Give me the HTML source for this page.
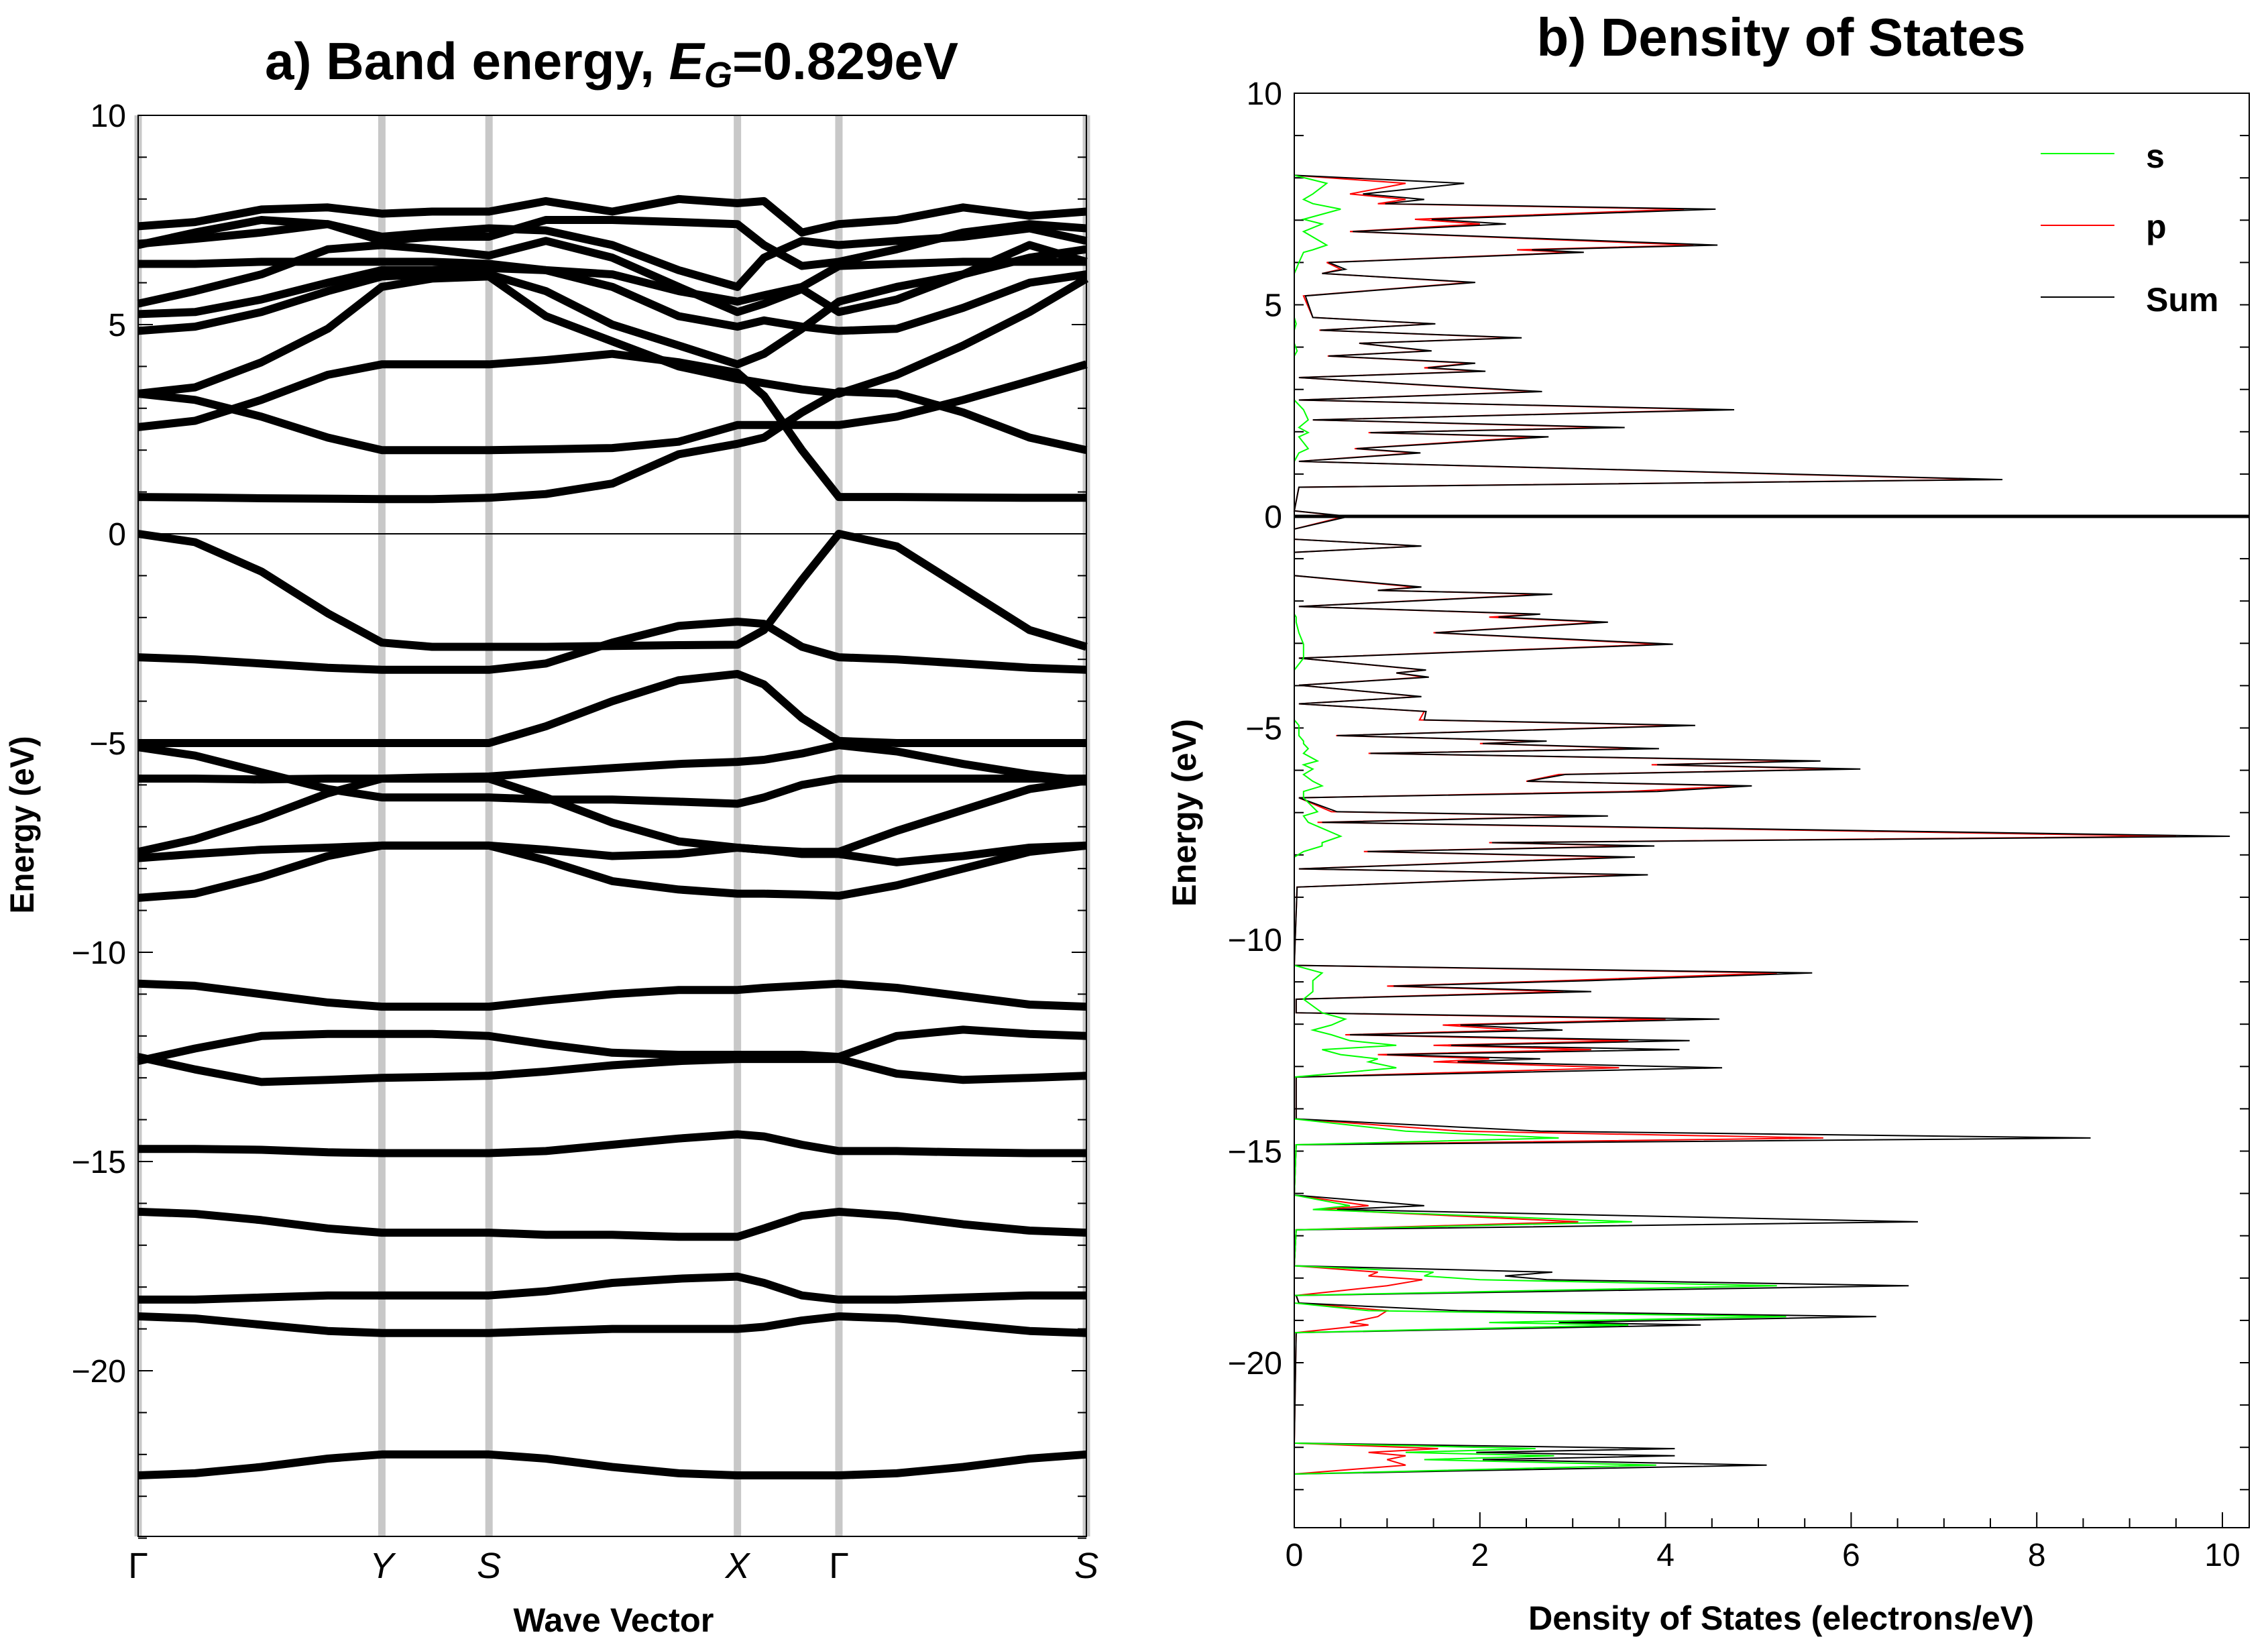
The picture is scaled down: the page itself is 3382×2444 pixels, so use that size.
<!DOCTYPE html>
<html><head><meta charset="utf-8"><title>Band energy and DOS</title>
<style>html,body{margin:0;padding:0;background:#fff}svg{display:block}text{font-family:"Liberation Sans",Arial,sans-serif}</style>
</head><body>
<svg id="fig" xmlns="http://www.w3.org/2000/svg" width="3382" height="2444" viewBox="0 0 3382 2444">
<rect width="3382" height="2444" fill="#fff"/>
<text x="912" y="118" font-size="78" font-weight="bold" text-anchor="middle" textLength="1034" lengthAdjust="spacingAndGlyphs">a) Band energy, <tspan font-style="italic">E</tspan><tspan font-style="italic" font-size="54" dy="12">G</tspan><tspan dy="-12">=0.829eV</tspan></text>
<text x="2656" y="83" font-size="80" font-weight="bold" text-anchor="middle" textLength="729" lengthAdjust="spacingAndGlyphs">b) Density of States</text>
<g id="bandPlot"></g>
<g id="dosPlot"></g>
<text x="915" y="2433" font-size="50" font-weight="bold" text-anchor="middle" textLength="299" lengthAdjust="spacingAndGlyphs">Wave Vector</text>
<text x="2656" y="2430" font-size="50" font-weight="bold" text-anchor="middle" textLength="754" lengthAdjust="spacingAndGlyphs">Density of States (electrons/eV)</text>
<text transform="translate(50,1230) rotate(-90)" font-size="50" font-weight="bold" text-anchor="middle" textLength="265" lengthAdjust="spacingAndGlyphs">Energy (eV)</text>
<text transform="translate(1783,1212) rotate(-90)" font-size="50" font-weight="bold" text-anchor="middle" textLength="280" lengthAdjust="spacingAndGlyphs">Energy (eV)</text>
<g>
<line x1="3043" y1="229" x2="3153" y2="229" stroke="#00ff00" stroke-width="2"/>
<text x="3200" y="250" font-size="50" font-weight="bold">s</text>
<line x1="3043" y1="336" x2="3153" y2="336" stroke="#ff0000" stroke-width="2"/>
<text x="3200" y="355" font-size="50" font-weight="bold">p</text>
<line x1="3043" y1="443" x2="3153" y2="443" stroke="#000" stroke-width="2"/>
<text x="3200" y="464" font-size="50" font-weight="bold">Sum</text>
</g>
</svg>
<script>
// ---------- Band structure data ----------
const kPoints = [0,0.06,0.13,0.2,0.257,0.31,0.37,0.43,0.5,0.57,0.632,0.66,0.7,0.739,0.8,0.87,0.94,1.0];
const symLabels = ["Γ","Y","S","X","Γ","S"];
const symK = [0,0.257,0.37,0.632,0.739,1.0];
const symItalic = [false,true,true,true,false,true];
const bandTicks = [10,5,0,-5,-10,-15,-20];
const b1=[-22.5,-22.45,-22.3,-22.1,-22.0,-22.0,-22.0,-22.1,-22.3,-22.45,-22.5,-22.5,-22.5,-22.5,-22.45,-22.3,-22.1,-22.0];
const b2=[-18.7,-18.75,-18.9,-19.05,-19.1,-19.1,-19.1,-19.05,-19.0,-19.0,-19.0,-18.95,-18.8,-18.7,-18.75,-18.9,-19.05,-19.1];
const b3=[-18.3,-18.3,-18.25,-18.2,-18.2,-18.2,-18.2,-18.1,-17.9,-17.8,-17.75,-17.9,-18.2,-18.3,-18.3,-18.25,-18.2,-18.2];
const b4=[-16.2,-16.25,-16.4,-16.6,-16.7,-16.7,-16.7,-16.75,-16.75,-16.8,-16.8,-16.6,-16.3,-16.2,-16.3,-16.5,-16.65,-16.7];
const b5=[-14.7,-14.7,-14.72,-14.78,-14.8,-14.8,-14.8,-14.75,-14.6,-14.45,-14.35,-14.4,-14.6,-14.75,-14.75,-14.78,-14.8,-14.8];
const b6=[-12.6,-12.3,-12.0,-11.95,-11.95,-11.95,-12.0,-12.2,-12.4,-12.45,-12.45,-12.45,-12.45,-12.5,-12.0,-11.85,-11.95,-12.0];
const b7=[-12.5,-12.8,-13.1,-13.05,-13.0,-12.98,-12.95,-12.85,-12.7,-12.6,-12.55,-12.55,-12.55,-12.55,-12.9,-13.05,-13.0,-12.95];
const b8=[-10.75,-10.8,-11.0,-11.2,-11.3,-11.3,-11.3,-11.15,-11.0,-10.9,-10.9,-10.85,-10.8,-10.75,-10.85,-11.05,-11.25,-11.3];
const v1=[0,-0.2,-0.9,-1.9,-2.6,-2.7,-2.7,-2.7,-2.68,-2.66,-2.65,-2.3,-1.1,0,-0.3,-1.3,-2.3,-2.7];
const v2=[-2.95,-3.0,-3.1,-3.2,-3.25,-3.25,-3.25,-3.1,-2.6,-2.2,-2.1,-2.15,-2.7,-2.95,-3.0,-3.1,-3.2,-3.25];
const v3=[-5.0,-5.0,-5.0,-5.0,-5.0,-5.0,-5.0,-4.6,-4.0,-3.5,-3.35,-3.6,-4.4,-4.95,-5.0,-5.0,-5.0,-5.0];
const v4=[-5.1,-5.3,-5.7,-6.1,-6.3,-6.3,-6.3,-6.35,-6.35,-6.4,-6.45,-6.3,-6.0,-5.85,-5.85,-5.85,-5.85,-5.85];
const v5=[-5.85,-5.85,-5.87,-5.85,-5.85,-5.82,-5.8,-5.7,-5.6,-5.5,-5.45,-5.4,-5.25,-5.05,-5.2,-5.5,-5.75,-5.9];
const v6=[-7.6,-7.3,-6.8,-6.2,-5.85,-5.85,-5.85,-6.3,-6.9,-7.35,-7.5,-7.55,-7.6,-7.6,-7.1,-6.6,-6.1,-5.9];
const v7=[-7.75,-7.65,-7.55,-7.5,-7.45,-7.45,-7.45,-7.55,-7.7,-7.65,-7.5,-7.55,-7.65,-7.65,-7.85,-7.7,-7.5,-7.45];
const v8=[-8.7,-8.6,-8.2,-7.7,-7.45,-7.45,-7.45,-7.8,-8.3,-8.5,-8.6,-8.6,-8.62,-8.65,-8.4,-8.0,-7.6,-7.45];
const c1=[0.88,0.87,0.85,0.84,0.83,0.83,0.86,0.95,1.2,1.9,2.15,2.3,2.9,3.4,3.35,2.9,2.3,2.0];
const c2=[3.35,3.2,2.8,2.3,2.0,2.0,2.0,2.02,2.05,2.2,2.6,2.6,2.6,2.6,2.8,3.2,3.65,4.05];
const c3=[2.55,2.7,3.2,3.8,4.05,4.05,4.05,4.15,4.3,4.1,3.85,3.3,2.0,0.88,0.88,0.87,0.86,0.86];
const c4=[3.35,3.5,4.1,4.9,5.9,6.1,6.15,5.2,4.6,4.0,3.7,3.6,3.45,3.35,3.8,4.5,5.3,6.1];
const c5=[4.85,4.95,5.3,5.8,6.15,6.2,6.2,5.8,5.0,4.5,4.05,4.3,4.9,5.55,5.9,6.2,6.6,6.8];
const c6=[5.25,5.3,5.6,6.0,6.3,6.3,6.35,6.3,5.9,5.2,4.95,5.1,4.95,4.85,4.9,5.4,6.0,6.2];
const c7=[5.5,5.8,6.2,6.8,6.9,6.8,6.65,7.0,6.6,5.9,5.3,5.5,5.85,5.3,5.6,6.2,6.9,6.5];
const c8=[6.45,6.45,6.5,6.5,6.5,6.5,6.45,6.3,6.2,5.8,5.55,5.7,5.9,6.4,6.45,6.5,6.5,6.5];
const c9=[6.93,7.05,7.2,7.4,7.1,7.2,7.3,7.25,6.9,6.3,5.9,6.6,7.0,6.9,7.0,7.1,7.3,7.0];
const c10=[7.35,7.45,7.75,7.8,7.65,7.7,7.7,7.95,7.7,8.0,7.9,7.95,7.2,7.4,7.5,7.8,7.6,7.7];
const c11=[6.9,7.2,7.5,7.4,7.0,7.1,7.1,7.5,7.5,7.45,7.4,6.9,6.4,6.5,6.8,7.2,7.4,7.3];
const bands=[b1,b2,b3,b4,b5,b6,b7,b8,v1,v2,v3,v4,v5,v6,v7,v8,c1,c2,c3,c4,c5,c6,c7,c8,c9,c10,c11];

// ---------- DOS data ----------
const dosE=[8.06,7.87,7.62,7.49,7.39,7.26,7.02,6.91,6.73,6.41,6.3,6.24,6.0,5.84,5.74,5.53,5.21,4.7,4.55,4.4,4.22,4.09,3.91,3.79,3.62,3.51,3.43,3.28,3.1,2.95,2.75,2.52,2.28,2.1,1.98,1.88,1.6,1.5,1.3,0.87,0.69,0.13,0.0,-0.3,-0.54,-0.70,-0.85,-1.4,-1.67,-1.75,-1.84,-2.13,-2.31,-2.38,-2.5,-2.75,-3.02,-3.35,-3.63,-3.7,-3.8,-3.99,-4.26,-4.43,-4.61,-4.81,-4.94,-5.18,-5.31,-5.37,-5.49,-5.6,-5.78,-5.87,-5.97,-6.1,-6.26,-6.37,-6.5,-6.65,-6.98,-7.08,-7.23,-7.56,-7.71,-7.79,-7.92,-8.05,-8.33,-8.47,-8.6,-8.76,-10.61,-10.79,-10.97,-11.1,-11.23,-11.41,-11.73,-11.88,-12.02,-12.14,-12.25,-12.39,-12.5,-12.6,-12.72,-12.82,-12.89,-13.03,-13.25,-14.24,-14.53,-14.69,-14.85,-16.04,-16.29,-16.38,-16.67,-16.86,-17.71,-17.86,-17.95,-18.04,-18.18,-18.41,-18.59,-18.77,-18.91,-19.05,-19.11,-19.29,-21.9,-22.03,-22.12,-22.2,-22.29,-22.42,-22.63];
const dosSum=[0,1.83,0.74,1.4,0.98,4.54,1.48,2.28,0.63,4.56,2.56,3.12,0.37,0.55,0.3,1.95,0.12,0.2,1.52,0.28,2.45,0.7,1.48,0.37,1.95,1.44,2.06,0.05,1.44,2.67,0.05,4.74,0.2,3.56,0.82,2.74,0.67,1.36,0.05,7.63,0.05,0,0.59,0,0,1.37,0,0,1.37,0.9,2.78,0.05,2.65,2.2,3.38,1.52,4.08,0.05,1.42,1.1,1.45,0.05,1.37,0.05,1.42,1.4,4.32,0.46,2.72,2.03,3.93,0.82,5.67,3.91,6.10,2.92,2.51,4.93,3.91,0.05,0.46,3.38,0.30,10.08,2.13,3.88,0.79,3.67,0.05,3.81,1.96,0.03,0,5.58,3.2,1.07,3.2,0.02,0.02,4.58,1.79,2.89,0.6,4.26,1.69,4.15,1.0,2.65,1.76,4.61,0.02,0.02,2.65,8.58,0.02,0,1.4,0.46,6.72,0.02,0,2.78,2.27,2.72,6.62,0.02,0.05,1.76,6.27,2.85,4.38,0.02,0,4.1,1.96,4.1,2.03,5.09,0];
const dosP=[0,1.2,0.6,1.2,0.9,4.2,1.3,2.0,0.6,4.3,2.4,3.0,0.35,0.5,0.3,1.9,0.1,0.2,1.5,0.27,2.4,0.7,1.45,0.36,1.9,1.4,2.0,0.05,1.4,2.6,0.05,4.6,0.2,3.4,0.8,2.6,0.65,1.3,0.05,7.5,0.05,0,0.55,0,0,1.35,0,0,1.3,0.9,2.7,0.05,2.6,2.1,3.3,1.5,3.95,0.05,1.4,1.1,1.4,0.05,1.35,0.05,1.4,1.35,4.2,0.45,2.65,2.0,3.8,0.8,5.5,3.85,5.9,2.85,2.5,4.8,3.6,0.05,0.4,3.2,0.25,9.5,2.1,3.7,0.75,3.5,0.05,3.7,1.9,0.03,0,5.2,2.9,1.0,2.9,0.02,0.02,4.0,1.6,2.4,0.55,3.6,1.5,3.2,0.9,2.1,1.5,3.5,0.02,0.02,1.8,5.7,0.02,0,0.8,0.3,3.06,0.02,0,0.9,0.8,1.38,1.0,0.02,0.05,1.0,0.9,0.6,0.8,0.02,0,1.55,0.8,1.2,1.0,1.2,0];
const dosS=[0,0.35,0.2,0.1,0.2,0.5,0.1,0.3,0.1,0.35,0.2,0.1,0.05,0.02,0,0,0,0,0.02,0,0,0,0.03,0,0,0,0,0,0,0,0,0.1,0.15,0.05,0.15,0.05,0.15,0.05,0,0,0,0,0,0,0,0,0,0,0,0,0,0,0,0.02,0.02,0.05,0.1,0.1,0,0,0,0,0,0,0,0,0.05,0.05,0.1,0.1,0.15,0.1,0.25,0.1,0.2,0.1,0.2,0.3,0.1,0.1,0.25,0.1,0.15,0.5,0.3,0.3,0.1,0,0,0,0,0,0,0.3,0.2,0.2,0.2,0.1,0.3,0.55,0.4,0.2,0.4,0.6,1.1,0.3,0.5,0.9,0.8,1.1,0,0,1.2,2.85,0.02,0,0.6,0.2,3.64,0.02,0,1.5,1.4,2.0,5.2,0,0,0.8,5.3,2.1,3.6,0,0,2.6,1.2,2.8,1.4,3.9,0];
const dosXTicks=[0,2,4,6,8,10];
const dosYTicks=[10,5,0,-5,-10,-15,-20];

const NS="http://www.w3.org/2000/svg";
function mk(tag, attrs, parent){const e=document.createElementNS(NS,tag);for(const k in attrs)e.setAttribute(k,attrs[k]);parent.appendChild(e);return e;}
function fmt(v){return v<0?"\u2212"+Math.abs(v):String(v);}

// ---------- Band plot ----------
const BL=206,BR=1620,BT=172,BB=2291;
const bx=k=>BL+k*(BR-BL);
const by=e=>796-e*62.4;
const bg=document.getElementById('bandPlot');
symK.forEach((k,i)=>{
  const l=mk('line',{x1:bx(k),y1:BT,x2:bx(k),y2:BB,stroke:'#c8c8c8','stroke-width':11},bg);
  
  
  const t=mk('text',{x:bx(k),y:2353,'font-size':54,'text-anchor':'middle','font-style':symItalic[i]?'italic':'normal'},bg);
  t.textContent=symLabels[i];
  
  
});
for(let e=-24;e<=10;e++){
  const len=(e%5===0)?22:13;
  mk('line',{x1:BL,y1:by(e),x2:BL+len,y2:by(e),stroke:'#000','stroke-width':2},bg);
  mk('line',{x1:BR,y1:by(e),x2:BR-len,y2:by(e),stroke:'#000','stroke-width':2},bg);
}
bandTicks.forEach(v=>{
  const t=mk('text',{x:188,y:by(v)+17,'font-size':48,'text-anchor':'end'},bg);
  t.textContent=fmt(v);
  
  
});
const zl=mk('line',{x1:BL,y1:by(0),x2:BR,y2:by(0),stroke:'#000','stroke-width':2},bg);


bands.forEach((b,i)=>{
  const pts=b.map((e,j)=>bx(kPoints[j]).toFixed(1)+','+by(e).toFixed(1)).join(' ');
  const p=mk('polyline',{points:pts,fill:'none',stroke:'#000','stroke-width':12,'stroke-linejoin':'round'},bg);
  
  
});
const bf=mk('rect',{x:BL,y:BT,width:BR-BL,height:BB-BT,fill:'none',stroke:'#000','stroke-width':2},bg);



// ---------- DOS plot ----------
const DL=1930,DR=3354,DT=139,DB=2278;
const dx=v=>DL+v*138.4;
const dy=e=>770-e*63.1;
const dg=document.getElementById('dosPlot');
for(let v=0.5;v<=10.01;v+=0.5){
  const major=Math.abs(v/2-Math.round(v/2))<1e-6;
  mk('line',{x1:dx(v),y1:DB,x2:dx(v),y2:DB-(major?23:14),stroke:'#000','stroke-width':2},dg);
}
for(let e=-23;e<=10;e++){
  mk('line',{x1:DL,y1:dy(e),x2:DL+14,y2:dy(e),stroke:'#000','stroke-width':2},dg);
  mk('line',{x1:DR,y1:dy(e),x2:DR-14,y2:dy(e),stroke:'#000','stroke-width':2},dg);
}
dosXTicks.forEach(v=>{
  const t=mk('text',{x:dx(v),y:2335,'font-size':48,'text-anchor':'middle'},dg);
  t.textContent=fmt(v);
  
  
});
dosYTicks.forEach(v=>{
  const t=mk('text',{x:1912,y:dy(v)+17,'font-size':48,'text-anchor':'end'},dg);
  t.textContent=fmt(v);
  
  
});
function dosLine(vals,color,name){
  const pts=vals.map((v,j)=>dx(v).toFixed(1)+','+dy(dosE[j]).toFixed(1)).join(' ');
  const p=mk('polyline',{points:pts,fill:'none',stroke:color,'stroke-width':2},dg);
  
  
}
dosLine(dosP,'#ff0000','dos-p-line');
dosLine(dosSum,'#000','dos-sum-line');
dosLine(dosS,'#00ff00','dos-s-line');
const dz=mk('line',{x1:DL,y1:dy(0),x2:DR,y2:dy(0),stroke:'#000','stroke-width':5},dg);


const df=mk('rect',{x:DL,y:DT,width:DR-DL,height:DB-DT,fill:'none',stroke:'#000','stroke-width':2},dg);


</script>
</body></html>
